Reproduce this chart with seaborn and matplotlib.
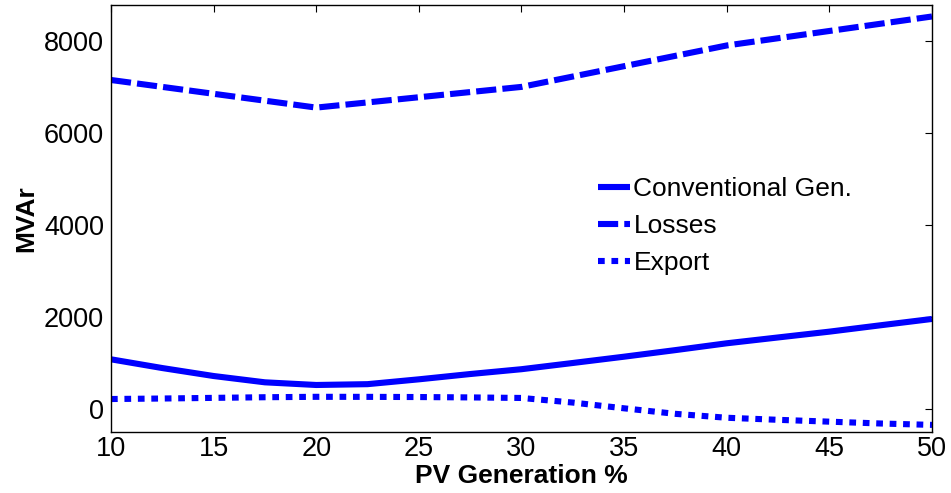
import matplotlib
matplotlib.use("Agg")
import matplotlib.pyplot as plt
import seaborn as sns
import pandas as pd

pv_fine = [10, 12.5, 15, 17.5, 20, 22.5, 25, 27.5, 30, 32.5, 35, 37.5, 40, 42.5, 45, 47.5, 50]
conventional = [1080, 890, 717, 580, 522, 540, 645, 760, 865, 1000, 1137, 1280, 1428, 1555, 1681, 1820, 1957]
export = [217, 228, 242, 256, 265, 264, 260, 252, 240, 140, 15, -105, -190, -235, -275, -315, -345]
pv_coarse = [10, 20, 30, 40, 50]
losses = [7150, 6550, 7000, 7900, 8530]

x_ticks = [10, 15, 20, 25, 30, 35, 40, 45, 50]
y_ticks = [0, 2000, 4000, 6000, 8000]

sns.set_style("white")
plt.rcParams["font.family"] = ["Liberation Sans", "DejaVu Sans"]
plt.rcParams["text.color"] = "black"
plt.rcParams["axes.labelcolor"] = "black"

fig = plt.figure(figsize=(9.51, 4.93), dpi=100)
ax = fig.add_axes([0.1167, 0.1237, 0.8633, 0.8662])

blue = "#0000ff"
LW = 4.4
sns.lineplot(x=pv_fine, y=conventional, ax=ax, color=blue, lw=LW, label="Conventional Gen.")
sns.lineplot(x=pv_coarse, y=losses, ax=ax, color=blue, lw=LW, label="Losses")
sns.lineplot(x=pv_fine, y=export, ax=ax, color=blue, lw=LW, label="Export")
lines = ax.get_lines()
lines[0].set_solid_capstyle("butt")
lines[1].set_linestyle((0, (3.3, 1.0)))
lines[1].set_dash_capstyle("butt")
lines[2].set_linestyle((0, (1.1, 1.1)))
lines[2].set_dash_capstyle("butt")

ax.set_xlim(10, 50)
ax.set_ylim(-500, 8780)
ax.set_xticks(x_ticks)
ax.set_yticks(y_ticks)
ax.tick_params(direction="in", length=5, width=0.8, top=True, right=True,
               labelsize=19.5, colors="black", pad=5)
ax.tick_params(axis="x", pad=3)
for s in ax.spines.values():
    s.set_color("black")
    s.set_linewidth(1.0)

ax.set_xlabel("PV Generation %", fontsize=19, fontweight="bold", labelpad=1)
ax.set_ylabel("MVAr", fontsize=19, fontweight="bold", labelpad=4)

leg = ax.legend(loc="upper left", bbox_to_anchor=(0.593, 0.597), frameon=False,
                fontsize=19, handlelength=1.2, handletextpad=0.15, labelspacing=0.5,
                borderaxespad=0, borderpad=0)
for h in leg.get_lines():
    h.set_linewidth(LW)

fig.savefig("out.png", dpi=100)
